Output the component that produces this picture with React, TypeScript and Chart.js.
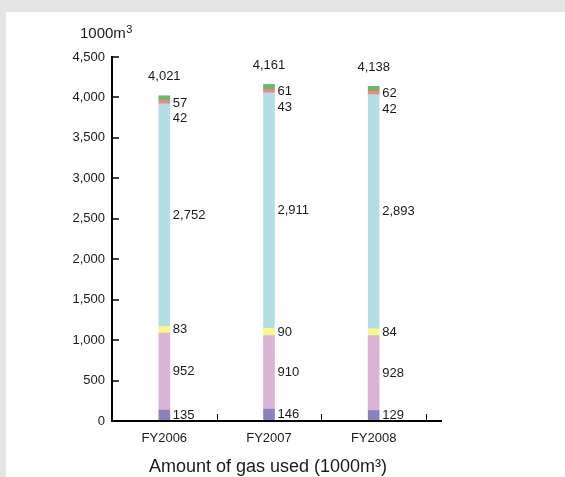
import React, { useEffect, useRef } from "react";
import { Chart, registerables } from "chart.js";

Chart.register(...registerables);

// ---- data ----
const categories = ["FY2006", "FY2007", "FY2008"];
const seriesPurple = [135, 146, 129];
const seriesPink = [952, 910, 928];
const seriesYellow = [83, 90, 84];
const seriesLightBlue = [2752, 2911, 2893];
const seriesRed = [42, 43, 42];
const seriesGreen = [57, 61, 62];
const totals = [4021, 4161, 4138];
const yMin = 0;
const yMax = 4500;
const yStep = 500;
const unitLabel = "1000m";
const unitSup = "3";
const bottomTitle = "Amount of gas used (1000m\u00B3)";

const FONT = '"Liberation Sans", Arial, Helvetica, sans-serif';
const TEXT = "#1a1a1a";
const BAR_W = 11;

const seriesList = [
  { data: seriesPurple, color: "#8b82bb", dy: 0 },
  { data: seriesPink, color: "#dab4d4", dy: 0 },
  { data: seriesYellow, color: "#f8f88a", dy: 0 },
  { data: seriesLightBlue, color: "#b3dfe4", dy: 0 },
  { data: seriesRed, color: "#f28482", dy: 16 },
  { data: seriesGreen, color: "#6cb86b", dy: 5 },
];

const fmt = (v: number) => v.toLocaleString("en-US");

const overlay = {
  id: "overlay",
  afterDatasetsDraw(chart: any) {
    const ctx = chart.ctx;
    const area = chart.chartArea;
    const y = chart.scales.y;
    ctx.save();
    ctx.strokeStyle = "#000";
    // inner y ticks
    ctx.lineWidth = 1.5;
    y.ticks.forEach((_t: any, i: number) => {
      const py = Math.round(y.getPixelForTick(i));
      ctx.beginPath();
      ctx.moveTo(area.left, py);
      ctx.lineTo(area.left + 7, py);
      ctx.stroke();
    });
    // x axis line
    ctx.lineWidth = 2;
    ctx.beginPath();
    ctx.moveTo(area.left - 1, area.bottom);
    ctx.lineTo(area.right + 16, area.bottom);
    ctx.stroke();
    // x ticks at category boundaries
    const n = categories.length;
    const w = (area.right - area.left) / n;
    ctx.lineWidth = 1;
    for (let i = 1; i <= n; i++) {
      const px = Math.round(area.left + i * w) + 0.5;
      ctx.beginPath();
      ctx.moveTo(px, area.bottom);
      ctx.lineTo(px, area.bottom - 7);
      ctx.stroke();
    }
    // segment labels
    ctx.fillStyle = TEXT;
    ctx.font = `13px ${FONT}`;
    ctx.textAlign = "left";
    ctx.textBaseline = "middle";
    seriesList.forEach((s, di) => {
      const meta = chart.getDatasetMeta(di);
      meta.data.forEach((el: any, j: number) => {
        const cy = (el.y + el.base) / 2 + s.dy;
        ctx.fillText(fmt(s.data[j]), el.x + BAR_W / 2 + 3, cy);
      });
    });
    // totals
    ctx.textAlign = "center";
    const topMeta = chart.getDatasetMeta(seriesList.length - 1);
    topMeta.data.forEach((el: any, j: number) => {
      ctx.fillText(fmt(totals[j]), el.x, y.getPixelForValue(totals[j]) - 19);
    });
    // unit label
    ctx.textAlign = "left";
    ctx.font = `15px ${FONT}`;
    ctx.fillText(unitLabel, 80, 34);
    const uw = ctx.measureText(unitLabel).width;
    ctx.font = `11px ${FONT}`;
    ctx.fillText(unitSup, 80 + uw + 0.5, 30);
    // bottom title
    ctx.textAlign = "center";
    ctx.textBaseline = "alphabetic";
    ctx.font = `18px ${FONT}`;
    ctx.fillText(bottomTitle, (area.left + area.right) / 2 - 1, 472);
    ctx.restore();
  },
};

export default function App() {
  const ref = useRef<HTMLCanvasElement | null>(null);
  useEffect(() => {
    if (!ref.current) return;
    const chart = new Chart(ref.current, {
      type: "bar",
      data: {
        labels: categories,
        datasets: seriesList.map((s, i) => ({
          label: "s" + i,
          data: s.data,
          backgroundColor: s.color,
          borderWidth: 0,
          barThickness: BAR_W,
        })),
      },
      options: {
        responsive: false,
        animation: false,
        devicePixelRatio: 1,
        layout: { padding: { left: 0, right: 139, top: 57, bottom: 0 } },
        plugins: { legend: { display: false }, tooltip: { enabled: false }, title: { display: false } },
        scales: {
          x: {
            stacked: true,
            grid: { display: false, drawTicks: false },
            border: { display: false },
            ticks: { color: TEXT, font: { family: FONT, size: 13 }, padding: 10 },
            afterFit: (s: any) => {
              s.height = 56;
            },
          },
          y: {
            stacked: true,
            min: yMin,
            max: yMax,
            grid: { display: true, drawOnChartArea: false, drawTicks: false, color: "rgba(0,0,0,0)" },
            border: { display: true, color: "#000", width: 2 },
            ticks: {
              stepSize: yStep,
              color: TEXT,
              font: { family: FONT, size: 13 },
              padding: 7,
              callback: (v: any) => fmt(Number(v)),
            },
            afterFit: (s: any) => {
              s.width = 112;
            },
          },
        },
      },
      plugins: [overlay],
    });
    return () => chart.destroy();
  }, []);
  return (
    <div style={{ position: "fixed", left: 0, top: 0, width: 565, height: 477, background: "#e4e4e4", overflow: "hidden" }}>
      <div style={{ position: "absolute", left: 6, top: 12, right: 0, bottom: 0, background: "#fff" }} />
      <canvas ref={ref} width={565} height={477} style={{ position: "absolute", left: 0, top: 0, display: "block" }} />
    </div>
  );
}
